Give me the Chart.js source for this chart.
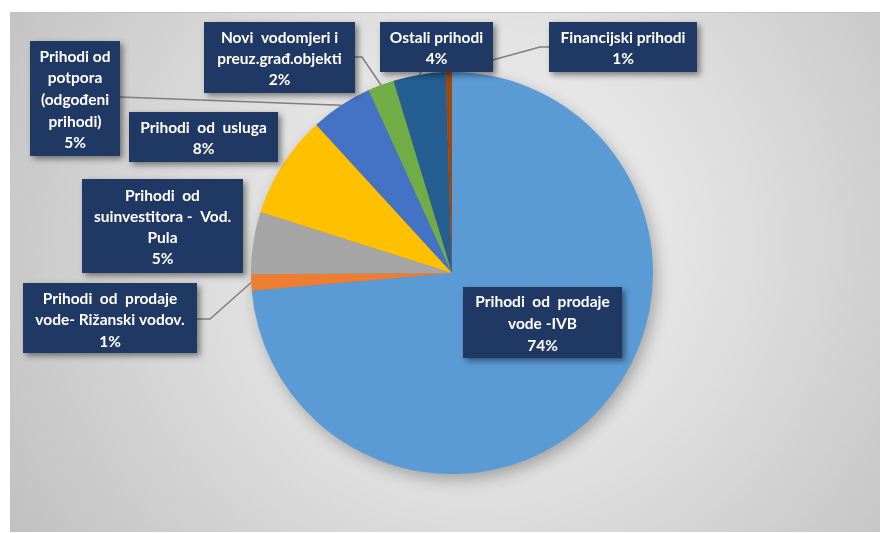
<!DOCTYPE html>
<html>
<head>
<meta charset="utf-8">
<script src="https://cdn.jsdelivr.net/npm/chart.js@4.4.0/dist/chart.umd.min.js"></script>
<style>
html,body{margin:0;padding:0;background:#ffffff;}
#wrap{width:880px;height:533px;position:relative;}
</style>
</head>
<body>
<div id="wrap"><canvas id="c" width="880" height="533"></canvas></div>
<script>
// ---- data ----
const categories = [
  "Prihodi  od  prodaje\nvode -IVB",
  "Prihodi  od  prodaje\nvode- Rižanski vodov.",
  "Prihodi  od\nsuinvestitora -  Vod.\nPula",
  "Prihodi  od  usluga",
  "Prihodi od\npotpora\n(odgođeni\nprihodi)",
  "Novi  vodomjeri i\npreuz.građ.objekti",
  "Ostali prihodi",
  "Financijski prihodi"
];
const values = [73.6, 1.3, 5.0, 8.3, 5.0, 2.1, 4.2, 0.5];
const colors = ["#5B9BD5", "#ED7D31", "#A5A5A5", "#FFC000", "#4472C4", "#70AD47", "#255E91", "#9E480E"];

// ---- label layout (positions only) ----
const boxLayout = [
  {x:463, y:287, w:159, h:71, lines:[302,324,346], leader:null},
  {x:23,  y:283, w:174, h:70, lines:[299,320,342], leader:{from:[197,319], elbow:[210,319]}},
  {x:82,  y:179, w:161, h:94, lines:[196,217,238,259], leader:null},
  {x:129, y:112, w:149, h:50, lines:[128,149], leader:null},
  {x:30,  y:41,  w:90,  h:115,lines:[57,78,100,122,143], leader:{from:[120,97], elbow:null}},
  {x:204, y:22,  w:151, h:71, lines:[38,59,80], leader:{from:[355,57], elbow:[362,57]}},
  {x:380, y:22,  w:113, h:50, lines:[38,59], leader:{from:[421,72], elbow:null}},
  {x:549, y:22,  w:148, h:50, lines:[38,59], leader:{from:[549,47], elbow:[540,47]}}
];

const bgPlugin = {
  id: 'bg',
  beforeDraw(chart) {
    const ctx = chart.ctx;
    ctx.save();
    ctx.fillStyle = '#ffffff';
    ctx.fillRect(0, 0, chart.width, chart.height);
    const g = ctx.createRadialGradient(480, 240, 20, 480, 240, 560);
    g.addColorStop(0, '#f4f4f4');
    g.addColorStop(0.45, '#dedede');
    g.addColorStop(1, '#c0c0c0');
    ctx.fillStyle = g;
    ctx.fillRect(10, 12, 870, 520);
    ctx.fillStyle = '#c2c2c2';
    ctx.fillRect(10, 12, 870, 1);
    ctx.restore();
  },
  beforeDatasetsDraw(chart) {
    const arc = chart.getDatasetMeta(0).data[0];
    if (!arc) return;
    const p = arc.getProps(['x','y','outerRadius'], true);
    const ctx = chart.ctx;
    ctx.save();
    ctx.shadowColor = 'rgba(0,0,0,0.3)';
    ctx.shadowBlur = 16;
    ctx.shadowOffsetX = 4;
    ctx.shadowOffsetY = 6;
    ctx.fillStyle = '#888888';
    ctx.beginPath();
    ctx.arc(p.x, p.y, p.outerRadius - 1, 0, Math.PI * 2);
    ctx.fill();
    ctx.restore();
  }
};

const labelPlugin = {
  id: 'boxLabels',
  afterDatasetsDraw(chart) {
    const ctx = chart.ctx;
    const meta = chart.getDatasetMeta(0);
    const total = values.reduce((a, b) => a + b, 0);
    ctx.save();
    // leader lines
    ctx.strokeStyle = '#7f7f7f';
    ctx.lineWidth = 1.5;
    boxLayout.forEach((b, i) => {
      if (!b.leader) return;
      const a = meta.data[i].getProps(['x','y','startAngle','endAngle','outerRadius'], true);
      const mid = (a.startAngle + a.endAngle) / 2;
      const ax = a.x + Math.cos(mid) * a.outerRadius;
      const ay = a.y + Math.sin(mid) * a.outerRadius;
      ctx.beginPath();
      ctx.moveTo(b.leader.from[0], b.leader.from[1]);
      if (b.leader.elbow) ctx.lineTo(b.leader.elbow[0], b.leader.elbow[1]);
      ctx.lineTo(ax, ay);
      ctx.stroke();
    });
    // boxes
    boxLayout.forEach((b, i) => {
      ctx.save();
      ctx.shadowColor = 'rgba(0,0,0,0.45)';
      ctx.shadowBlur = 6;
      ctx.shadowOffsetX = 3;
      ctx.shadowOffsetY = 3;
      ctx.fillStyle = '#203864';
      ctx.fillRect(b.x, b.y, b.w, b.h);
      ctx.restore();
      const lines = categories[i].split('\n');
      lines.push(Math.round(values[i] / total * 100) + '%');
      ctx.fillStyle = '#ffffff';
      ctx.font = 'bold 15.5px Lato';
      ctx.textAlign = 'center';
      ctx.textBaseline = 'middle';
      const cx = b.x + b.w / 2;
      lines.forEach((t, j) => {
        ctx.fillText(t, cx, b.lines[j]);
      });
    });
    ctx.restore();
  }
};

new Chart(document.getElementById('c'), {
  type: 'pie',
  data: {
    labels: categories.map(c => c.replace(/\n/g, ' ')),
    datasets: [{
      data: values,
      backgroundColor: colors,
      borderWidth: 0
    }]
  },
  options: {
    responsive: false,
    animation: false,
    layout: { padding: { left: 251, right: 227, top: 72, bottom: 59 } },
    plugins: {
      legend: { display: false },
      tooltip: { enabled: false },
      title: { display: false }
    }
  },
  plugins: [bgPlugin, labelPlugin]
});
</script>
</body>
</html>
